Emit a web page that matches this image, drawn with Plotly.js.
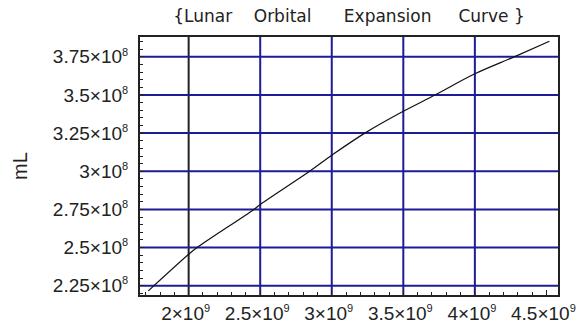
<!DOCTYPE html>
<html>
<head>
<meta charset="utf-8">
<script src="https://cdn.plot.ly/plotly-3.0.1.min.js"></script>
<style>
  html, body { margin: 0; padding: 0; background: #fff; }
  #chart { width: 578px; height: 329px; }
</style>
</head>
<body>
<div id="chart"></div>
<script>
// time (years) vs lunar orbital distance mL
var timeYears = [1.718e9, 2.0e9, 2.059e9, 2.456e9, 2.5e9, 2.845e9, 3.0e9, 3.231e9, 3.5e9, 3.722e9, 4.0e9, 4.275e9, 4.521e9];
var mL = [2.216e8, 2.456e8, 2.5e8, 2.75e8, 2.782e8, 3.0e8, 3.105e8, 3.25e8, 3.393e8, 3.5e8, 3.639e8, 3.75e8, 3.852e8];

var xTickVals = [2e9, 2.5e9, 3e9, 3.5e9, 4e9, 4.5e9];
var xTickMant = ['2', '2.5', '3', '3.5', '4', '4.5'];
var yTickVals = [2.25e8, 2.5e8, 2.75e8, 3e8, 3.25e8, 3.5e8, 3.75e8];
var yTickMant = ['2.25', '2.5', '2.75', '3', '3.25', '3.5', '3.75'];

// vertical grid lines (the first one is drawn black)
var xGrid = [2e9, 2.5e9, 3e9, 3.5e9, 4e9];
var yGrid = [2.25e8, 2.5e8, 2.75e8, 3e8, 3.25e8, 3.5e8, 3.75e8];

function sci(m, e) {
    return m + '×10<sup><span style="font-size:11px">' + e + '</span></sup>';
}

var gridColor = '#1c1c96';
var shapes = [];
xGrid.forEach(function (v, i) {
    shapes.push({
        type: 'line', xref: 'x', yref: 'paper', x0: v, x1: v, y0: 0, y1: 1,
        line: { color: i === 0 ? '#222' : gridColor, width: 2 }, layer: 'below'
    });
});
yGrid.forEach(function (v) {
    shapes.push({
        type: 'line', xref: 'paper', yref: 'y', x0: 0, x1: 1, y0: v, y1: v,
        line: { color: gridColor, width: 2 }, layer: 'below'
    });
});

var curve = {
    x: timeYears,
    y: mL,
    mode: 'lines',
    line: { color: '#111', width: 1.2, shape: 'spline', smoothing: 1 },
    hoverinfo: 'x+y'
};

var tickFont = { family: 'Liberation Sans, Arial, sans-serif', size: 19, color: '#222' };

var layout = {
    width: 578,
    height: 329,
    margin: { l: 140, r: 20, t: 37, b: 34 },
    paper_bgcolor: '#fff',
    plot_bgcolor: '#fff',
    showlegend: false,
    shapes: shapes,
    title: {
        text: '{Lunar\u00a0\u00a0\u00a0 Orbital\u00a0\u00a0\u00a0\u00a0\u00a0 Expansion\u00a0\u00a0\u00a0\u00a0 Curve }',
        font: { family: 'DejaVu Sans, Verdana, sans-serif', size: 17, color: '#222' },
        x: 0.5, xref: 'paper', xanchor: 'center',
        y: 0.95, yref: 'container', yanchor: 'middle'
    },
    xaxis: {
        range: [1.66e9, 4.581e9],
        tickvals: xTickVals,
        ticktext: xTickVals.map(function (v, i) { return sci(xTickMant[i], 9); }),
        tickfont: tickFont,
        ticks: 'inside', ticklen: 5, tickwidth: 1, tickcolor: '#222',
        minor: { dtick: 1e8, tick0: 0, ticks: 'inside', ticklen: 3, tickcolor: '#222', showgrid: false },
        showgrid: false, zeroline: false,
        showline: true, linecolor: '#222', linewidth: 2, mirror: true,
        ticklabelstandoff: 0,
        ticklabelshift: -3,
        ticklabeloverflow: 'allow'
    },
    yaxis: {
        title: { text: 'mL', font: { family: 'Liberation Sans, Arial, sans-serif', size: 20, color: '#222' }, standoff: 20 },
        range: [2.189e8, 3.88e8],
        tickvals: yTickVals,
        ticktext: yTickVals.map(function (v, i) { return sci(yTickMant[i], 8); }),
        tickfont: tickFont,
        ticks: 'inside', ticklen: 5, tickwidth: 1, tickcolor: '#222',
        minor: { dtick: 5e6, tick0: 0, ticks: 'inside', ticklen: 3, tickcolor: '#222', showgrid: false },
        showgrid: false, zeroline: false,
        showline: true, linecolor: '#222', linewidth: 2, mirror: true,
        ticklabelstandoff: 6
    }
};

Plotly.newPlot('chart', [curve], layout, { displayModeBar: false, staticPlot: true });
</script>
</body>
</html>
